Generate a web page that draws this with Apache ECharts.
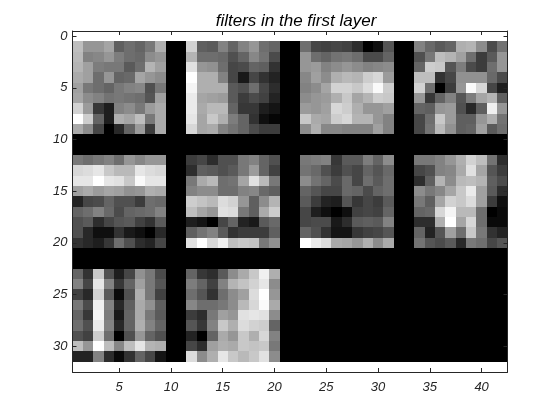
<!DOCTYPE html>
<html>
<head>
<meta charset="utf-8">
<script src="https://cdn.jsdelivr.net/npm/echarts@6/dist/echarts.min.js"></script>
<style>
html,body{margin:0;padding:0;background:#fff;}
#chart{width:560px;height:420px;}
</style>
</head>
<body>
<div id="chart"></div>
<script>
// 9x9 gray-level filters (0 = black, 255 = white)
var filter1 = [
 [190,150,150,165, 95,110,100,120,175],
 [185,130,135,150,125,110,105,140,150],
 [180,160,125,120,120, 90,110,180,160],
 [170,160,110,150,100,105,165,150,140],
 [160,120,110,100,120,130,135, 80,120],
 [165,140,130,115,120,115,110, 85,160],
 [210,155, 55, 30,130,140,120,155,170],
 [255,205,100, 30,175,165,190,120,170],
 [170,140, 70,  0, 40,100,155, 60,170]
];
var filter2 = [
 [210, 95, 90,130,100,130,150,110,100],
 [180,110,110,105, 80,100,135,115, 75],
 [225,150,145,110, 70, 75,100, 95, 50],
 [255,175,175,130, 70, 25, 70, 50, 35],
 [245,175,175,175, 90, 80,110, 70, 45],
 [235,165,160,155, 90, 60, 75, 65, 35],
 [235,170,185,185,100, 55, 55, 30, 20],
 [230,165,200,175,125,100, 50, 15,  5],
 [215,165,170,130,115,100, 75, 60, 60]
];
var filter3 = [
 [110, 70, 65, 70, 65, 45,  0, 15, 85],
 [150,110,100,115,120,110, 75, 75,100],
 [150,155,130,140,150,140,130,135,140],
 [135,160,140,175,185,180,205,215,155],
 [130,140,165,210,210,200,220,250,205],
 [140,150,155,175,200,165,180,205,200],
 [155,150,160,215,205,175,150,150,160],
 [200,170,165,205,215,180,180,150,130],
 [140,175,135,135,130,130,130,160,130]
];
var filter4 = [
 [130,105, 90,100,175,180,140, 75,115],
 [ 80,120,190,180,160,110, 60, 90,150],
 [100,205,200, 85,125, 75, 60,110,150],
 [190,190, 50, 70,145,145,145,105, 75],
 [210,110,  0, 60,150,250,215, 70, 30],
 [150, 55,100,130, 85,125,165,180, 95],
 [100, 95,150,155, 80, 40, 95,240,150],
 [ 70,110,200,155, 95, 95,150,175,115],
 [ 70,115,185,145, 95,100,160, 90,110]
];
var filter5 = [
 [120,110,120,130,110,150,135,150,150],
 [215,220,230,200,185,185,230,220,215],
 [230,230,255,230,225,200,250,230,230],
 [160,170,155,165,160,145,150,175,170],
 [ 35, 70, 75,100, 80, 80, 60,110,105],
 [100,110,130,105, 75,100,105,110,130],
 [ 80, 90, 45, 70, 85, 90, 65, 50, 90],
 [ 80, 40, 15, 15, 50, 25, 15,  0, 40],
 [ 50, 40, 30, 55,110, 80, 45, 35, 70]
];
var filter6 = [
 [ 60, 70, 45, 80, 80,120,130,100, 80],
 [ 45, 95, 90, 80, 90,120,155,100, 65],
 [120,170,185,110,115,165,225,185,120],
 [130,140,140,110,110,130,135,105, 95],
 [205,195,185,220,210,150, 95,140,180],
 [190,165,150,225,220,120, 95,170,205],
 [ 30, 20,  0, 70,100, 35, 25, 90,105],
 [ 95,115,130, 90, 50, 60, 60, 60, 95],
 [225,255,215,240,190,200,195,120,145]
];
var filter7 = [
 [120,125,130, 55, 90, 90,125,100,140],
 [115,105, 80, 60, 80, 70,100, 85,105],
 [140,115,100, 75,105, 70,110, 90,110],
 [100, 85, 70, 70,105,100, 75,100,110],
 [ 90, 60, 35, 30, 85, 55, 70, 60, 90],
 [ 70, 30, 15,  0, 15, 65, 70, 65,100],
 [ 70, 75, 75, 25, 45, 90, 95, 90,130],
 [100, 80, 50, 20, 20, 55, 65, 70, 85],
 [255,235,220,170,165,150,175,140,170]
];
var filter8 = [
 [120,120,130,150,175,210,190,115, 45],
 [ 70, 80,130,135,170,225,165, 85, 60],
 [ 45, 95,180,140,185,190,180, 95, 75],
 [140,120,135,165,200,235,160, 90, 45],
 [120, 95,165,210,200,220,160, 60, 15],
 [100,105,215,245,185,185,110,  0, 10],
 [ 45, 45,175,255,165,215,110, 10, 10],
 [100, 35, 85,160,110,200,120, 50, 35],
 [115, 85, 75, 90, 40,120,110, 70, 85]
];
var filter9 = [
 [100, 50,200, 80, 30, 70,145,120, 75],
 [130, 70,230,130, 55,100,160,120, 85],
 [ 65, 40,210, 90, 10, 80,175,120, 65],
 [120, 75,240,130, 40, 95,170,145, 95],
 [100, 55,245,125, 25,100,170,120, 90],
 [110, 80,235,130, 40,100,175,130,100],
 [ 80, 65,205,110,  0, 80,150,100, 80],
 [190,150,255,190,135,190,230,180,175],
 [ 35, 35,130, 45, 10, 50,100, 70, 20]
];
var filter10 = [
 [100, 55, 45, 90,140,170,200,240,175],
 [125,100, 65,130,180,195,210,230,140],
 [110, 85, 50,110,140,160,220,255,150],
 [135,110,110,120,140,185,215,250,170],
 [ 60, 45,120,160,150,225,230,225,140],
 [ 85, 55,130,200,175,220,210,205,100],
 [ 35,  0,100,170,150,200,175,215,130],
 [ 70, 45,160,175,170,200,195,200,120],
 [220,140,175,230,200,185,200,225,140]
];
var filters = [filter1, filter2, filter3, filter4, filter5, filter6, filter7, filter8, filter9, filter10];

var xTicks = [5, 10, 15, 20, 25, 30, 35, 40];
var yTicks = [0, 5, 10, 15, 20, 25, 30];
var titleText = 'filters in the first layer';

// montage: 4 filters per row, 2 black cells between them, 42 x 31 cells
var nCols = 42, nRows = 31, perRow = 4, step = 11;
var grid = [];
for (var r = 0; r < nRows; r++) { grid.push([]); for (var c = 0; c < nCols; c++) grid[r].push(0); }
filters.forEach(function (f, k) {
  var r0 = Math.floor(k / perRow) * step, c0 = (k % perRow) * step;
  for (var i = 0; i < 9; i++) for (var j = 0; j < 9; j++) grid[r0 + i][c0 + j] = f[i][j];
});
var cells = [];
for (var r = 0; r < nRows; r++) for (var c = 0; c < nCols; c++) cells.push([c + 1, r + 1, grid[r][c]]);

var axisColor = '#262626';
var labelFont = { color: axisColor, fontSize: 13, fontStyle: 'italic', fontFamily: 'Liberation Sans, Arial, sans-serif' };

function xAx(pos, showLabel) {
  return {
    type: 'value', position: pos, min: 0.5, max: 42.5, z: 10,
    axisLine: { show: true, onZero: false, lineStyle: { color: axisColor, width: 1 } },
    axisTick: { show: true, inside: true, length: 4, customValues: xTicks, lineStyle: { color: axisColor } },
    axisLabel: Object.assign({ show: showLabel, margin: 9, customValues: xTicks }, labelFont),
    splitLine: { show: false }
  };
}
function yAx(pos, showLabel) {
  return {
    type: 'value', position: pos, min: -0.5, max: 32.5, inverse: true, z: 10,
    axisLine: { show: true, onZero: false, lineStyle: { color: axisColor, width: 1 } },
    axisTick: { show: true, inside: true, length: 4, customValues: yTicks, lineStyle: { color: axisColor } },
    axisLabel: Object.assign({ show: showLabel, margin: 5, customValues: yTicks }, labelFont),
    splitLine: { show: false }
  };
}

var chart = echarts.init(document.getElementById('chart'), null, { renderer: 'canvas' });
chart.setOption({
  animation: false,
  backgroundColor: '#fff',
  title: {
    text: titleText, left: 291, top: 8, textAlign: 'center',
    textStyle: { color: '#000', fontSize: 17, fontStyle: 'italic', fontWeight: 'normal', fontFamily: 'Liberation Sans, Arial, sans-serif' }
  },
  grid: { left: 72.5, top: 31, width: 435, height: 341, containLabel: false },
  xAxis: [xAx('bottom', true), xAx('top', false)],
  yAxis: [yAx('left', true), yAx('right', false)],
  series: [{
    type: 'custom',
    xAxisIndex: 0, yAxisIndex: 0,
    clip: true,
    data: cells,
    renderItem: function (params, api) {
      var a = api.coord([api.value(0) - 0.5, api.value(1) - 0.5]);
      var b = api.coord([api.value(0) + 0.5, api.value(1) + 0.5]);
      var x0 = Math.round(a[0]), x1 = Math.round(b[0]);
      var y0 = Math.round(a[1]), y1 = Math.round(b[1]);
      var v = Math.round(api.value(2));
      var col = 'rgb(' + v + ',' + v + ',' + v + ')';
      return {
        type: 'rect',
        shape: { x: x0, y: y0, width: x1 - x0, height: y1 - y0 },
        style: { fill: col, stroke: null }
      };
    }
  }]
});
</script>
</body>
</html>
